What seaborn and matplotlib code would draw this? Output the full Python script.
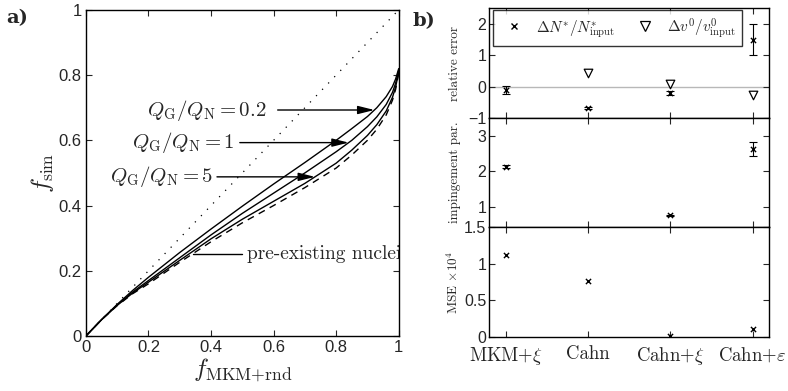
import numpy as np
import pandas as pd
import matplotlib
matplotlib.use("Agg")
import matplotlib.pyplot as plt
import seaborn as sns
from matplotlib.lines import Line2D

# ---------------- data ----------------
f_mkm = [0, 0.05, 0.1, 0.15, 0.2, 0.3, 0.4, 0.5, 0.6, 0.7, 0.8, 0.85, 0.9, 0.93, 0.96, 0.98, 0.99, 1.0]
f_q02 = [0, 0.05, 0.097, 0.14, 0.18, 0.256, 0.328, 0.398, 0.466, 0.532, 0.600, 0.636, 0.673, 0.700, 0.734, 0.765, 0.788, 0.82]
f_q1 = [0, 0.05, 0.095, 0.135, 0.17, 0.24, 0.31, 0.376, 0.438, 0.5, 0.565, 0.6, 0.642, 0.672, 0.71, 0.747, 0.775, 0.815]
f_q5 = [0, 0.05, 0.094, 0.132, 0.165, 0.232, 0.298, 0.358, 0.413, 0.468, 0.53, 0.57, 0.615, 0.648, 0.69, 0.732, 0.763, 0.81]
f_pre = [0, 0.05, 0.093, 0.13, 0.16, 0.226, 0.289, 0.347, 0.4, 0.455, 0.515, 0.555, 0.6, 0.634, 0.678, 0.723, 0.756, 0.805]

models = [r"MKM+$\xi$", "Cahn", r"Cahn+$\xi$", r"Cahn+$\varepsilon$"]
dN_rel = [-0.1, -0.68, -0.2, 1.5]
dN_err = [0.12, 0.03, 0.05, 0.5]
dv_rel = [np.nan, 0.44, 0.08, -0.28]
imp_par = [2.13, np.nan, 0.77, 2.63]
imp_err = [0.04, np.nan, 0.02, 0.19]
mse = [1.12, 0.76, 0.02, 0.11]

# ---------------- style ----------------
sns.set_style("ticks")
plt.rcParams["font.family"] = ["Liberation Sans", "DejaVu Sans"]
plt.rcParams["mathtext.fontset"] = "cm"
plt.rcParams["xtick.direction"] = "in"
plt.rcParams["ytick.direction"] = "in"
plt.rcParams["axes.linewidth"] = 1.0
plt.rcParams["axes.edgecolor"] = "black"

SERIF = "cmr10"

fig = plt.figure(figsize=(7.88, 3.91), dpi=100)

# ---------------- panel a ----------------
axa = fig.add_axes([0.109, 0.1407, 0.397, 0.834])
xs = np.array(f_mkm)
axa.plot([0, 1], [0, 1], ls=(0, (1, 6)), color="black", lw=0.9)
curves = [(f_q02, "-"), (f_q1, "-"), (f_q5, "-"), (f_pre, (0, (5, 4)))]
for ys, ls in curves:
    sns.lineplot(x=xs, y=np.array(ys), ax=axa, color="black", lw=1.0,
                 linestyle=ls, sort=False, estimator=None)
axa.set_xlim(0, 1)
axa.set_ylim(0, 1)
axa.set_xticks([0, 0.2, 0.4, 0.6, 0.8, 1])
axa.set_xticklabels(["0", "0.2", "0.4", "0.6", "0.8", "1"])
axa.set_yticks([0, 0.2, 0.4, 0.6, 0.8, 1])
axa.set_yticklabels(["0", "0.2", "0.4", "0.6", "0.8", "1"])
axa.tick_params(top=True, right=True, labelsize=12, length=4, width=0.8, pad=3)
axa.set_xlabel(r"$f_{\rm MKM{+}rnd}$", fontsize=18, labelpad=1)
axa.set_ylabel(r"$f_{\rm sim}$", fontsize=18, labelpad=2)

arrow_kw = dict(arrowstyle="-|>,head_length=1.0,head_width=0.25", color="black", lw=1.0,
                shrinkA=0, shrinkB=0)
ann = [
    (r"$Q_{\rm G}/Q_{\rm N}=0.2$", 0.578, 0.613, f_q02, 0.693),
    (r"$Q_{\rm G}/Q_{\rm N}=1$", 0.476, 0.492, f_q1, 0.593),
    (r"$Q_{\rm G}/Q_{\rm N}=5$", 0.406, 0.419, f_q5, 0.488),
]
for txt, xt, xs0, cy, ytip in ann:
    xtip = float(np.interp(ytip, cy, f_mkm))
    axa.text(xt, ytip, txt, ha="right", va="center", fontsize=15)
    axa.annotate("", xy=(xtip, ytip), xytext=(xs0, ytip), arrowprops=arrow_kw)
axa.plot([0.342, 0.498], [0.252, 0.252], color="black", lw=1.0)
axa.text(0.514, 0.252, "pre-existing nuclei", ha="left", va="center",
         fontsize=14, fontfamily=SERIF, clip_on=True)
fig.text(0.008, 0.955, "a)", fontsize=14, fontweight="bold", fontfamily="DejaVu Serif",
         va="center")

# ---------------- panel b ----------------
xpos = np.arange(1, 5)
pos = [[0.6206, 0.698, 0.3553, 0.281],
       [0.6206, 0.4194, 0.3553, 0.279],
       [0.6206, 0.138, 0.3553, 0.281]]
ax1 = fig.add_axes(pos[0])
ax2 = fig.add_axes(pos[1])
ax3 = fig.add_axes(pos[2])

for ax in (ax1, ax2, ax3):
    ax.set_xlim(0.8, 4.2)
    ax.set_xticks(xpos)
    ax.tick_params(top=True, right=True, labelsize=11.5, length=4, width=0.8, pad=2)
    ax.set_xticklabels([])

# top panel
ax1.axhline(0, color="0.72", lw=1.0, zorder=0)
ax1.errorbar(xpos, dN_rel, yerr=dN_err, fmt="none", ecolor="black", elinewidth=0.8,
             capsize=3, capthick=0.8, zorder=6)
df1 = pd.DataFrame({"x": xpos, "dN": dN_rel, "dv": dv_rel})
sns.scatterplot(data=df1, x="x", y="dN", ax=ax1, marker="x", color="black", s=14,
                linewidth=1.0, zorder=6)
sns.scatterplot(data=df1.dropna(), x="x", y="dv", ax=ax1, marker="v", facecolor="white",
                edgecolor="black", s=38, linewidth=0.9)
ax1.set_ylim(-1, 2.5)
ax1.set_yticks([-1, 0, 1, 2])
ax1.set_yticklabels(["\u22121", "0", "1", "2"])
ax1.set_xlabel("")
ax1.set_ylabel("relative error", fontsize=9.5, fontfamily=SERIF, labelpad=2)
h = [Line2D([], [], marker="x", color="black", ls="none", markersize=4, mew=1.0),
     Line2D([], [], marker="v", mfc="white", mec="black", ls="none", markersize=6.5, mew=0.9)]
leg = ax1.legend(h, [r"$\Delta N^{*}/N^{*}_{\rm input}$", r"$\Delta v^{0}/v^{0}_{\rm input}$"],
                 ncol=2, loc="upper left", bbox_to_anchor=(0.014, 0.985), fontsize=11,
                 frameon=True, fancybox=False, edgecolor="black", handletextpad=0.5,
                 columnspacing=1.0, borderpad=0.4, handlelength=1.9, borderaxespad=0)
leg.get_frame().set_linewidth(1.0)
leg.set_zorder(3)

# middle panel
ax2.errorbar(xpos, imp_par, yerr=imp_err, fmt="none", ecolor="black", elinewidth=0.8,
             capsize=3, capthick=0.8)
df2 = pd.DataFrame({"x": xpos, "imp": imp_par}).dropna()
sns.scatterplot(data=df2, x="x", y="imp", ax=ax2, marker="x", color="black", s=14,
                linewidth=1.0)
ax2.set_ylim(0.44, 3.5)
ax2.set_yticks([1, 2, 3])
ax2.set_yticklabels(["1", "2", "3"])
ax2.set_xlabel("")
ax2.set_ylabel("impingement par.", fontsize=9.5, fontfamily=SERIF, labelpad=2)

# bottom panel
df3 = pd.DataFrame({"x": xpos, "mse": mse})
sns.scatterplot(data=df3, x="x", y="mse", ax=ax3, marker="x", color="black", s=14,
                linewidth=1.0)
ax3.set_ylim(0, 1.5)
ax3.set_yticks([0, 0.5, 1, 1.5])
ax3.set_yticklabels(["0", "0.5", "1", "1.5"])
ax3.set_xlabel("")
ax3.set_ylabel(r"MSE $\times10^{4}$", fontsize=9.5, fontfamily=SERIF, labelpad=2)
ax3.set_xticklabels(models, fontsize=13.5, fontfamily=SERIF)
ax3.tick_params(axis="x", pad=6)

for ax in (ax1, ax2, ax3):
    ax.yaxis.set_label_coords(-0.1, 0.5)

fig.text(0.524, 0.945, "b)", fontsize=14, fontweight="bold", fontfamily="DejaVu Serif",
         va="center")

fig.savefig("out.png", dpi=100)
